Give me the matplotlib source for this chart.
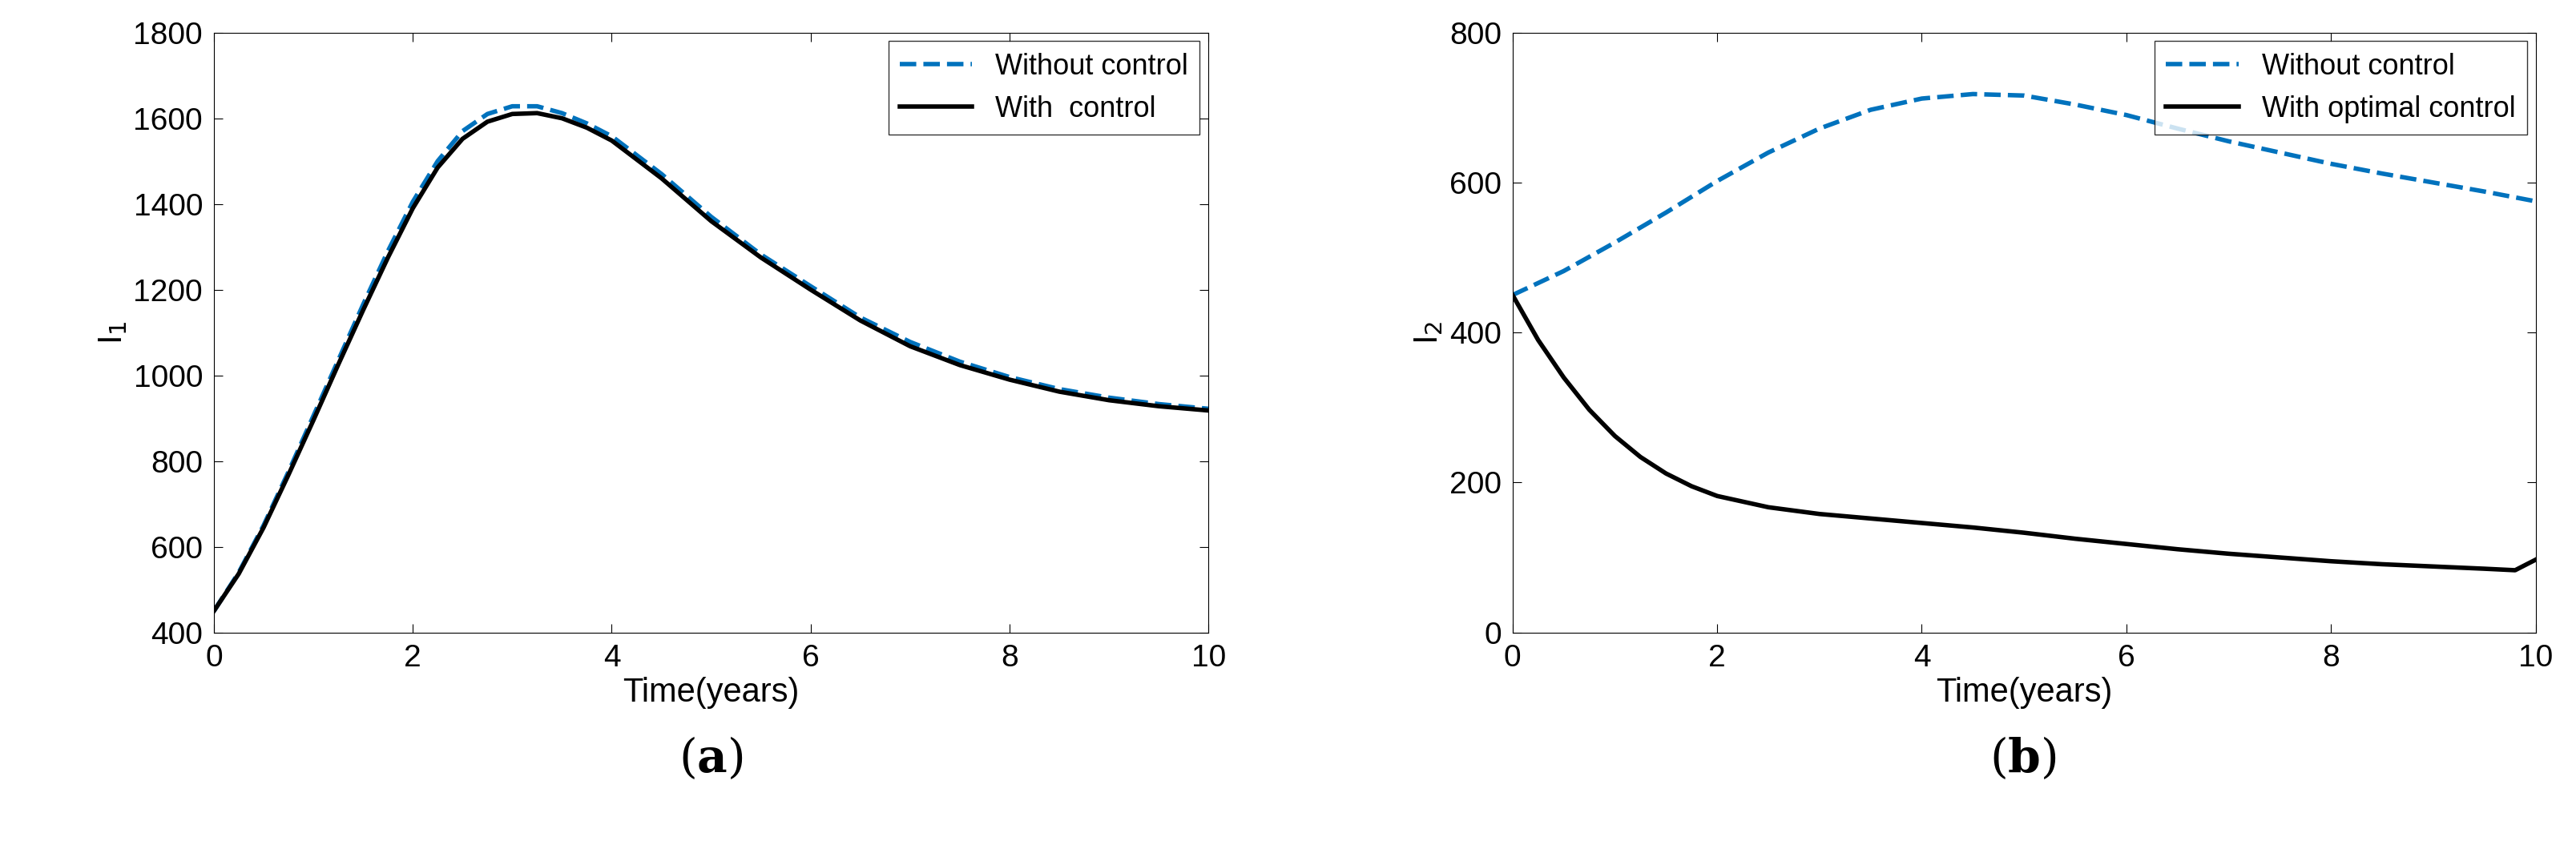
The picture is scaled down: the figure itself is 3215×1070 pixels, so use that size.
import matplotlib
matplotlib.use("Agg")
import matplotlib.pyplot as plt

t_a = [0, 0.25, 0.5, 0.75, 1, 1.25, 1.5, 1.75, 2, 2.25, 2.5, 2.75, 3, 3.25, 3.5, 3.75, 4, 4.5, 5, 5.5, 6, 6.5, 7, 7.5, 8, 8.5, 9, 9.5, 10]
i1_without = [450, 540, 650, 775, 905, 1035, 1165, 1290, 1405, 1500, 1570, 1610, 1628, 1628, 1612, 1588, 1558, 1470, 1370, 1282, 1208, 1135, 1078, 1032, 996, 968, 948, 933, 922]
i1_with = [450, 537, 645, 768, 895, 1025, 1152, 1275, 1390, 1485, 1552, 1592, 1610, 1612, 1600, 1578, 1548, 1460, 1360, 1275, 1200, 1128, 1068, 1024, 990, 962, 942, 928, 918]

t_b = [0, 0.5, 1, 1.5, 2, 2.5, 3, 3.5, 4, 4.5, 5, 5.5, 6, 6.5, 7, 7.5, 8, 8.5, 9, 9.5, 10]
i2_without = [450, 482, 520, 560, 602, 640, 672, 697, 712, 718, 716, 704, 690, 672, 655, 640, 625, 612, 600, 588, 575]
t_b_with = [0, 0.25, 0.5, 0.75, 1, 1.25, 1.5, 1.75, 2, 2.5, 3, 3.5, 4, 4.5, 5, 5.5, 6, 6.5, 7, 7.5, 8, 8.5, 9, 9.5, 9.8, 10]
i2_with = [450, 390, 340, 297, 262, 234, 212, 195, 182, 167, 158, 152, 146, 140, 133, 125, 118, 111, 105, 100, 95, 91, 88, 85, 83, 97]

blue = "#0072BD"
plt.rcParams["font.family"] = "Liberation Sans"
fig = plt.figure(figsize=(32.16, 10.70), dpi=100)
ax1 = fig.add_axes([0.083, 0.262, 0.386, 0.700])
ax2 = fig.add_axes([0.587, 0.262, 0.397, 0.700])

ax1.plot(t_a, i1_without, "--", color=blue, lw=4, label="Without control")
ax1.plot(t_a, i1_with, "-", color="black", lw=4, label="With  control")
ax1.set_xlim(0, 10); ax1.set_ylim(400, 1800)
ax1.set_yticks(range(400, 1801, 200))
ax1.set_ylabel("I$_1$", fontsize=30)

ax2.plot(t_b, i2_without, "--", color=blue, lw=4, label="Without control")
ax2.plot(t_b_with, i2_with, "-", color="black", lw=4, label="With optimal control")
ax2.set_xlim(0, 10); ax2.set_ylim(0, 800)
ax2.set_yticks(range(0, 801, 200))
ax2.set_ylabel("I$_2$", fontsize=30)

for ax in (ax1, ax2):
    ax.set_xticks(range(0, 11, 2))
    ax.tick_params(labelsize=28, direction="in", length=8, top=True, right=True, pad=10)
    ax.set_xlabel("Time(years)", fontsize=30, labelpad=4)
    ax.legend(loc="upper right", fontsize=26, fancybox=False, edgecolor="black",
              handlelength=2.5, borderaxespad=0.3)

plt.rcParams["mathtext.fontset"] = "dejavuserif"
fig.text(0.276, 0.115, r"($\mathbf{a}$)", fontsize=42, family="DejaVu Serif", ha="center", va="center")
fig.text(0.785, 0.115, r"($\mathbf{b}$)", fontsize=42, family="DejaVu Serif", ha="center", va="center")
fig.savefig("out.png", dpi=100)
